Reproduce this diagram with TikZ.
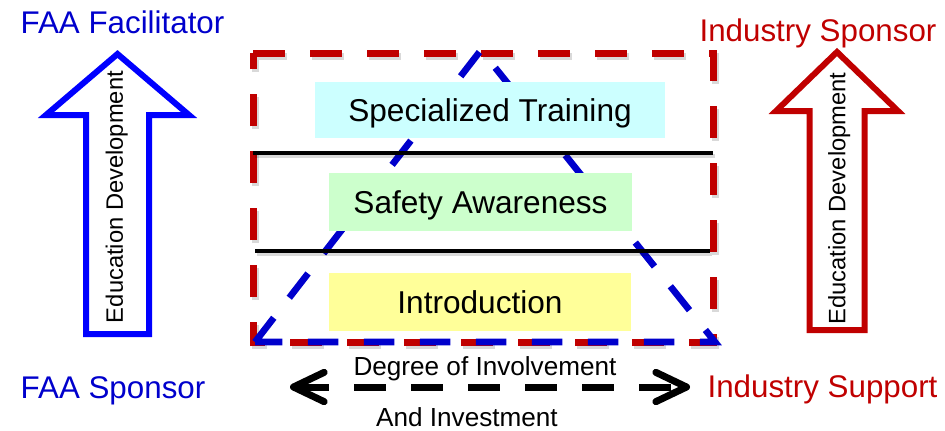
\documentclass[tikz,border=0pt]{standalone}
\usepackage{fontspec}
\setmainfont{Liberation Sans}
\usetikzlibrary{arrows.meta}
\definecolor{redc}{RGB}{192,0,0}
\definecolor{blueA}{RGB}{0,0,255}
\definecolor{blueT}{RGB}{0,0,204}
\definecolor{cyanbox}{RGB}{204,255,255}
\definecolor{greenbox}{RGB}{204,255,204}
\definecolor{yellowbox}{RGB}{255,255,153}
\begin{document}
\begin{tikzpicture}[x=0.75pt,y=-0.75pt,
  lbl/.style={font=\fontsize{23.5pt}{26pt}\selectfont, anchor=base, inner sep=0pt},
  smalllbl/.style={font=\fontsize{19.6pt}{22pt}\selectfont, anchor=base, inner sep=0pt},
  levelbox/.style={inner sep=0pt, text height=17pt, text depth=0pt, font=\fontsize{23.7pt}{26pt}\selectfont},
  edu/.style={rotate=90, inner sep=0pt, text height=12.6pt, text depth=0pt, font=\fontsize{17.8pt}{20pt}\selectfont},
  blockarrow/.style={line width=4.5pt, fill=white, miter limit=10, line join=miter},
  reddash/.style={draw=redc, line width=5.25pt, dash pattern=on 24pt off 18.75pt,
    preaction={draw=black, opacity=0.15, line width=5.25pt, dash pattern=on 24pt off 18.75pt,
      transform canvas={xshift=1.5pt,yshift=-2.25pt}}},
  bluedash/.style={draw=blueT, line width=5pt, dash pattern=on 23pt off 19pt},
  sepline/.style={line width=3pt, draw=black,
    preaction={draw=black, opacity=0.15, line width=3pt, transform canvas={xshift=1.2pt,yshift=-2pt}}},
  bigarrow/.style={line width=5.25pt, dash pattern=on 24pt off 18.75pt,
    {Straight Barb[length=23pt,width=22pt,round]}-{Straight Barb[length=23pt,width=22pt,round]}}
]
\useasboundingbox (0,0) rectangle (945,430);

% red dashed frame
\coordinate (rtl) at (253,53);
\coordinate (rtr) at (713,53);
\coordinate (rbr) at (713,342);
\coordinate (rbl) at (253,342);
\draw[reddash] (rtl) -- (rtr) -- (rbr) -- (rbl) -- cycle;

% blue dashed triangle
\coordinate (apex) at (481,50);
\coordinate (tbl) at (255,342);
\coordinate (tbr) at (715,342);
\draw[bluedash] (tbl) -- (apex) -- (tbr) -- cycle;

% separator lines
\coordinate (l1a) at (253,153);
\coordinate (l1b) at (713,153);
\coordinate (l2a) at (255,251);
\coordinate (l2b) at (710,251);
\draw[sepline] (l1a) -- (l1b);
\draw[sepline] (l2a) -- (l2b);

% level boxes
\node[levelbox, fill=cyanbox, minimum width=262.5pt, minimum height=42pt] (st) at (490,110) {Specialized Training};
\node[levelbox, fill=greenbox, minimum width=227.25pt, minimum height=43.5pt] (sa) at (480.5,202) {Safety Awareness};
\node[levelbox, fill=yellowbox, minimum width=226.5pt, minimum height=43.5pt] (in) at (480,302) {Introduction};

% left block arrow
\draw[blockarrow, draw=blueA] (117.5,54) -- (189,115) -- (149,115) -- (149,334) -- (86,334) -- (86,115) -- (46,115) -- cycle;
\node[edu] (eduL) at (114.5,197) {Education Development};

% right block arrow
\draw[blockarrow, draw=redc] (837,52) -- (898,111) -- (864.5,111) -- (864.5,330) -- (809.5,330) -- (809.5,111) -- (776,111) -- cycle;
\node[edu] (eduR) at (837,198.5) {Education Development};

% corner labels
\node[lbl, text=blueT] (faaf) at (122.5,33) {FAA Facilitator};
\node[lbl, text=blueT] (faas) at (113,398) {FAA Sponsor};
\node[lbl, text=redc] (inds) at (818,41) {Industry Sponsor};
\node[lbl, text=redc] (indsup) at (822.5,397) {Industry Support};

% bottom double arrow
\coordinate (la) at (290,387);
\coordinate (ra) at (690,387);
\draw[bigarrow] (la) -- (ra);
\node[smalllbl] (doi) at (485,375) {Degree of Involvement};
\node[smalllbl] (ai) at (467,426) {And Investment};
\end{tikzpicture}
\end{document}
